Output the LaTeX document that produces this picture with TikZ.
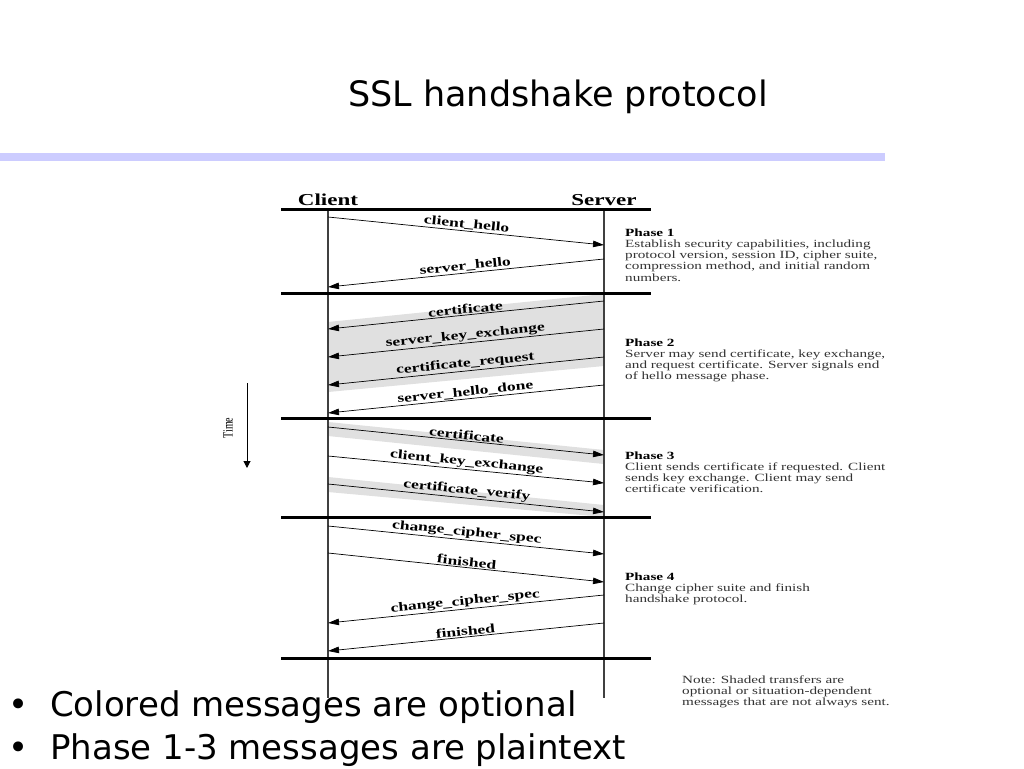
\documentclass[tikz,border=0pt]{standalone}
\usepackage{fontspec}
\usepackage{graphicx}
\setmainfont{Liberation Serif}
\newfontfamily\slidefont{DejaVu Sans}
\usetikzlibrary{arrows.meta, positioning}

\definecolor{bandblue}{RGB}{204,204,255}
\definecolor{shadegray}{RGB}{224,224,224}

% diagram text is stretched sideways in the slide
\newcommand{\wide}[1]{\scalebox{1.38}[1]{#1}}
\newcommand{\phasebox}[1]{\wide{\begin{tabular}[t]{@{}l@{}}#1\end{tabular}}}

\begin{document}
\begin{tikzpicture}[
    x=1pt, y=-1pt,
    lifeline/.style={line width=1.1pt, black!75},
    sep/.style={line width=3pt},
    msg/.style={line width=0.7pt, -{Triangle[length=11pt, width=6.5pt]}},
    lbl/.style={sloped, above, inner sep=1pt, font=\fontsize{12.7}{14}\selectfont\bfseries},
    optional/.style={fill=shadegray, draw=none},
    header/.style={anchor=base, inner sep=0pt, font=\fontsize{16.7}{18}\selectfont\bfseries},
    phase/.style={anchor=base west, inner sep=0pt, text=black!80, font=\fontsize{11}{11.3}\selectfont},
    bullet/.style={anchor=base west, inner sep=0pt, font=\slidefont\fontsize{34}{40}\selectfont}
]
\path[use as bounding box, fill=white] (0,0) rectangle (1024,768);

% Slide title and band
\node[anchor=base, inner sep=0pt, font=\slidefont\fontsize{35}{40}\selectfont] (title) at (558,106) {SSL handshake protocol};
\fill[bandblue] (0,153) rectangle (885,161);

% Shaded (optional) transfers
\fill[optional] (328,322) -- (604,294) -- (604,366) -- (328,392) -- cycle;
\fill[optional] (328,422) -- (604,450) -- (604,464) -- (328,436) -- cycle;
\fill[optional] (328,477) -- (604,505) -- (604,517) -- (328,492) -- cycle;

% Client and Server lifelines
\node[header] (client) at (328,205.5) {\wide{Client}};
\node[header] (server) at (604,205.5) {\wide{Server}};
\coordinate (ctop) at (328,209);
\coordinate (cbot) at (328,698);
\coordinate (stop) at (604,209);
\coordinate (sbot) at (604,698);
\draw[lifeline] (ctop) -- (cbot);
\draw[lifeline] (stop) -- (sbot);

% Phase separators
\draw[sep] (281,209) -- (651,209);
\draw[sep] (281,293) -- (651,293);
\draw[sep] (281,418) -- (651,418);
\draw[sep] (281,517) -- (651,517);
\draw[sep] (281,658) -- (651,658);

% Phase 1
\coordinate (c1) at (328,217);  \coordinate (s1) at (604,245);
\coordinate (s2) at (604,259);  \coordinate (c2) at (328,287);
\draw[msg] (c1) -- node[lbl] {\wide{client\_hello}} (s1);
\draw[msg] (s2) -- node[lbl] {\wide{server\_hello}} (c2);

% Phase 2
\coordinate (s3) at (604,301);  \coordinate (c3) at (328,329);
\coordinate (s4) at (604,329);  \coordinate (c4) at (328,357);
\coordinate (s5) at (604,357);  \coordinate (c5) at (328,385);
\coordinate (s6) at (604,385);  \coordinate (c6) at (328,413);
\draw[msg] (s3) -- node[lbl] {\wide{certificate}} (c3);
\draw[msg] (s4) -- node[lbl] {\wide{server\_key\_exchange}} (c4);
\draw[msg] (s5) -- node[lbl] {\wide{certificate\_request}} (c5);
\draw[msg] (s6) -- node[lbl] {\wide{server\_hello\_done}} (c6);

% Phase 3
\coordinate (c7) at (328,427);  \coordinate (s7) at (604,455);
\coordinate (c8) at (328,456);  \coordinate (s8) at (604,483);
\coordinate (c9) at (328,484);  \coordinate (s9) at (604,512);
\draw[msg] (c7) -- node[lbl] {\wide{certificate}} (s7);
\draw[msg] (c8) -- node[lbl] {\wide{client\_key\_exchange}} (s8);
\draw[msg] (c9) -- node[lbl] {\wide{certificate\_verify}} (s9);

% Phase 4
\coordinate (c10) at (328,526);  \coordinate (s10) at (604,554);
\coordinate (c11) at (328,553);  \coordinate (s11) at (604,582);
\coordinate (s12) at (604,595);  \coordinate (c12) at (328,623);
\coordinate (s13) at (604,623);  \coordinate (c13) at (328,651);
\draw[msg] (c10) -- node[lbl] {\wide{change\_cipher\_spec}} (s10);
\draw[msg] (c11) -- node[lbl] {\wide{finished}} (s11);
\draw[msg] (s12) -- node[lbl] {\wide{change\_cipher\_spec}} (c12);
\draw[msg] (s13) -- node[lbl] {\wide{finished}} (c13);

% Time axis
\coordinate (ttop) at (247,383);
\coordinate (tbot) at (247,468);
\draw[line width=1pt, -{Triangle[length=7pt, width=7pt]}] (ttop) -- (tbot);
\node[rotate=90, inner sep=0pt, font=\fontsize{14}{16}\selectfont] (time) at (228,428) {\scalebox{0.72}[1]{Time}};

% Phase descriptions
\node[phase] (p1) at (625,236) {\phasebox{\textcolor{black}{\bfseries Phase 1}\\Establish security capabilities, including\\protocol version, session ID, cipher suite,\\compression method, and initial random\\numbers.}};
\node[phase] (p2) at (625,346) {\phasebox{\textcolor{black}{\bfseries Phase 2}\\Server may send certificate, key exchange,\\and request certificate. Server signals end\\of hello message phase.}};
\node[phase] (p3) at (625,459) {\phasebox{\textcolor{black}{\bfseries Phase 3}\\Client sends certificate if requested. Client\\sends key exchange. Client may send\\certificate verification.}};
\node[phase] (p4) at (625,580) {\phasebox{\textcolor{black}{\bfseries Phase 4}\\Change cipher suite and finish\\handshake protocol.}};
\node[phase] (note) at (682,683) {\phasebox{Note: Shaded transfers are\\optional or situation-dependent\\messages that are not always sent.}};

% Bullets
\node[bullet] (b1) at (8,716) {\makebox[42pt][l]{•}Colored messages are optional};
\node[bullet] (b2) at (8,759) {\makebox[42pt][l]{•}Phase 1-3 messages are plaintext};

\end{tikzpicture}
\end{document}
